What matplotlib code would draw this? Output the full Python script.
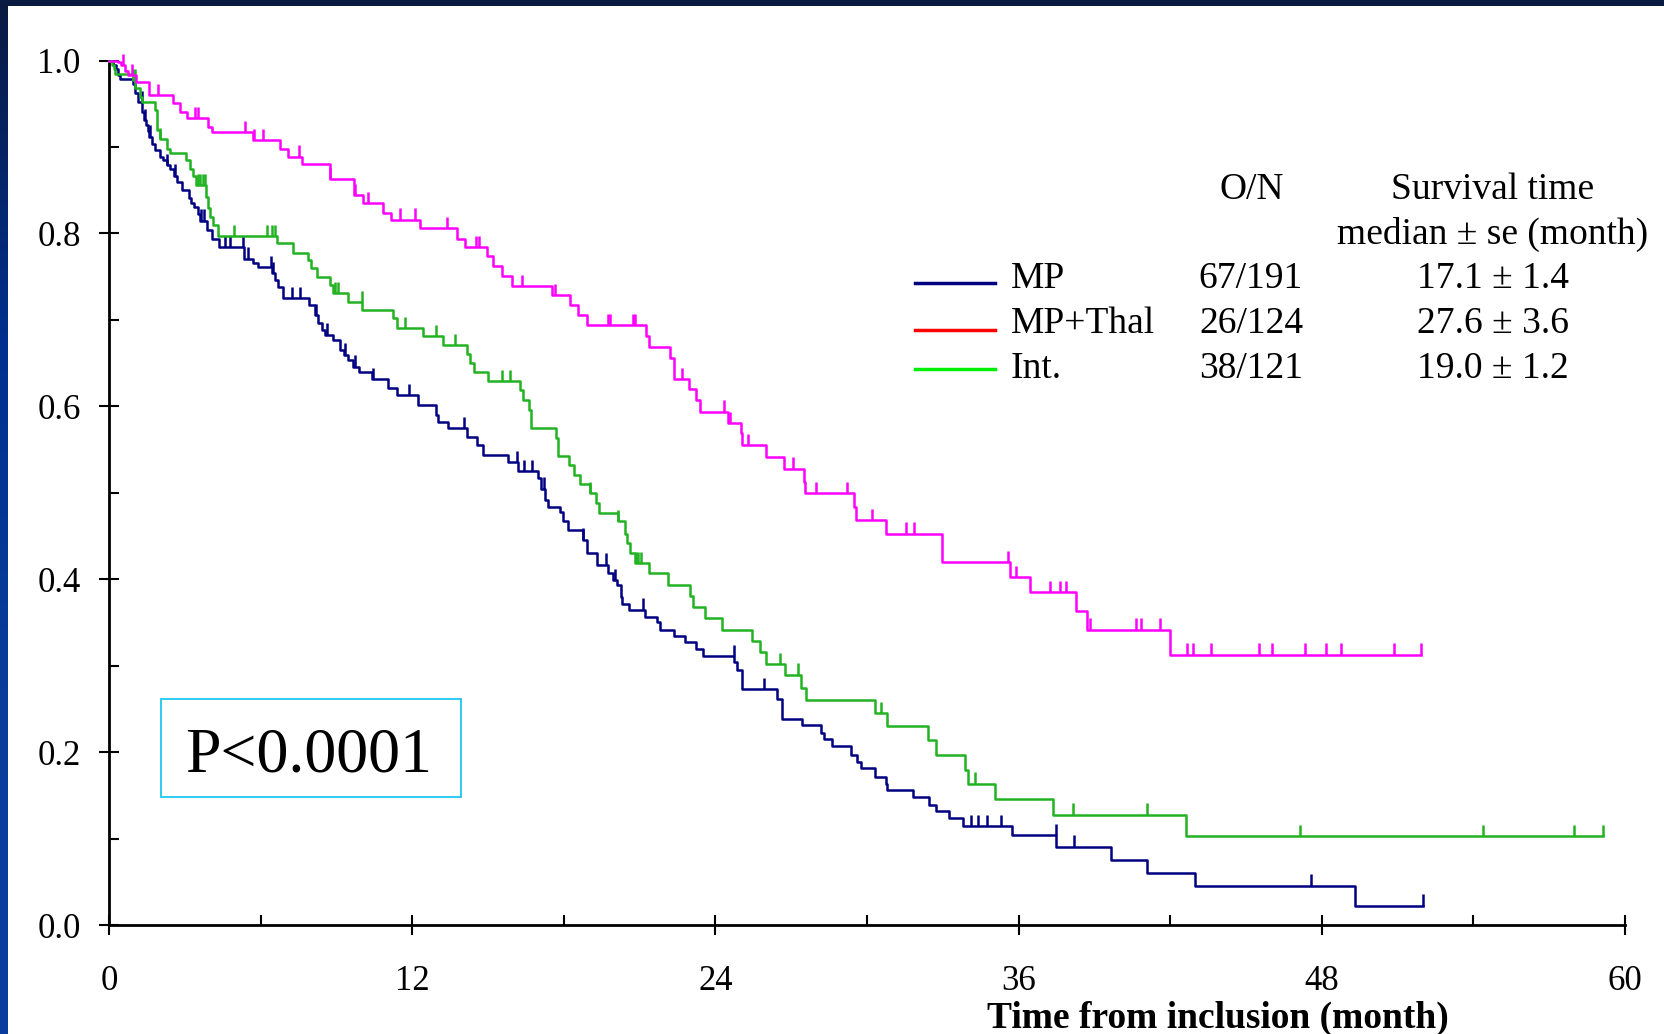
import numpy as np
import matplotlib
matplotlib.use("Agg")
import matplotlib.pyplot as plt
from matplotlib.patches import Rectangle
from matplotlib.colors import LinearSegmentedColormap

plt.rcParams['font.family'] = ['Liberation Serif', 'DejaVu Serif']

# ---------------- data ----------------
groups = ["MP", "MP+Thal", "Int."]
o_n = ["67/191", "26/124", "38/121"]
medians = ["17.1 \u00b1 1.4", "27.6 \u00b1 3.6", "19.0 \u00b1 1.2"]

mp_times = [0.15, 0.25, 0.35, 0.42, 0.95, 1.02, 1.14, 1.31, 1.38, 1.45, 1.52, 1.58, 1.71, 1.82,
            2.0, 2.14, 2.27, 2.40, 2.55, 2.67, 2.87, 3.16, 3.25, 3.36, 3.50, 3.6, 3.86, 4.08,
            4.35, 5.33, 5.68, 5.90, 6.43, 6.55, 6.69, 6.86, 7.92, 8.14, 8.27, 8.41, 8.54, 8.87,
            9.13, 9.30, 9.46, 9.66, 9.90, 10.39, 11.05, 11.40, 12.24, 12.93, 13.03, 13.42, 14.15,
            14.55, 14.78, 15.80, 16.19, 16.98, 17.10, 17.25, 17.38, 17.84, 17.95, 18.17, 18.77,
            18.92, 19.32, 19.73, 19.96, 20.10, 20.26, 20.30, 20.56, 21.20, 21.70, 21.80, 22.34,
            22.79, 23.22, 23.49, 24.75, 24.85, 25.04, 26.43, 26.63, 27.43, 28.19, 28.29, 28.60,
            29.36, 29.59, 29.78, 30.31, 30.77, 30.80, 31.83, 32.44, 32.74, 33.26, 33.80, 35.73,
            37.50, 39.67, 41.08, 43.00, 49.31]
mp_surv = [0.995, 0.99, 0.983, 0.979, 0.973, 0.962, 0.952, 0.941, 0.931, 0.925, 0.918, 0.912, 0.904, 0.896,
           0.889, 0.885, 0.879, 0.875, 0.867, 0.860, 0.850, 0.841, 0.835, 0.831, 0.823, 0.815, 0.804, 0.794,
           0.784, 0.771, 0.766, 0.761, 0.754, 0.746, 0.738, 0.725, 0.717, 0.706, 0.696, 0.688, 0.683, 0.677,
           0.665, 0.660, 0.654, 0.646, 0.640, 0.632, 0.621, 0.613, 0.602, 0.590, 0.582, 0.575, 0.565,
           0.556, 0.544, 0.536, 0.525, 0.517, 0.505, 0.492, 0.484, 0.478, 0.468, 0.457, 0.446,
           0.430, 0.417, 0.407, 0.399, 0.393, 0.380, 0.372, 0.365, 0.357, 0.351, 0.342, 0.335,
           0.328, 0.320, 0.311, 0.305, 0.295, 0.273, 0.262, 0.239, 0.232, 0.223, 0.215, 0.207,
           0.197, 0.189, 0.182, 0.172, 0.164, 0.157, 0.149, 0.139, 0.132, 0.124, 0.115, 0.104,
           0.091, 0.076, 0.061, 0.046, 0.023]
mp_end = 52.0
mp_cens = [1.3, 1.4, 1.6, 2.3, 2.6, 3.65, 3.75, 4.6, 4.78, 5.3, 5.5, 6.4, 6.5, 7.22, 7.55, 8.2, 8.6,
           9.33, 9.73, 10.43, 11.88, 14.04, 16.13, 16.42, 16.75, 17.21, 18.77, 19.66, 20.02, 21.14,
           24.73, 25.92, 34.1, 34.4, 34.75, 35.3, 37.47, 38.2, 47.56, 52.0]

thal_times = [0.36, 0.45, 0.62, 0.75, 1.06, 1.58, 2.53, 2.80, 3.06, 3.92, 4.05, 5.68, 6.76, 7.09, 7.61,
              8.74, 9.69, 10.06, 10.82, 11.14, 12.30, 13.75, 14.08, 14.94, 15.20, 15.53, 15.93, 17.51,
              18.24, 18.57, 18.92, 21.25, 21.38, 22.20, 22.36, 22.96, 23.23, 23.38, 24.50, 25.00, 25.05,
              26.00, 26.70, 27.50, 27.55, 29.48, 29.55, 30.74, 32.95, 35.66, 36.45, 38.27, 38.72, 41.99]
thal_surv = [0.998, 0.995, 0.988, 0.983, 0.975, 0.960, 0.951, 0.941, 0.933, 0.923, 0.917, 0.908, 0.898, 0.889, 0.880,
             0.863, 0.844, 0.835, 0.824, 0.816, 0.806, 0.794, 0.784, 0.774, 0.762, 0.751, 0.739, 0.729,
             0.717, 0.706, 0.694, 0.681, 0.669, 0.656, 0.632, 0.620, 0.607, 0.594, 0.581, 0.569, 0.555,
             0.541, 0.528, 0.513, 0.500, 0.484, 0.469, 0.453, 0.420, 0.403, 0.385, 0.364, 0.342, 0.313]
thal_end = 51.92
thal_cens = [0.55, 0.9, 1.94, 3.40, 3.50, 5.37, 5.72, 6.10, 7.52, 8.75, 9.72, 10.25, 11.50, 12.10, 13.36,
             14.50, 14.65, 16.33, 17.65, 19.75, 19.82, 20.75, 20.82, 22.66, 24.33, 24.57, 25.30, 27.08,
             28.00, 29.20, 30.20, 31.54, 31.86, 35.57, 35.90, 37.24, 37.66, 37.86, 38.82, 40.65, 40.83,
             41.60, 42.68, 42.89, 43.63, 45.53, 46.02, 47.35, 48.17, 48.76, 50.87, 51.92]

int_times = [0.10, 0.18, 0.23, 0.95, 1.02, 1.22, 1.28, 1.81, 1.88, 2.0, 2.27, 2.40, 3.04, 3.19, 3.33, 3.43,
             3.83, 3.90, 3.99, 4.12, 4.32, 6.63, 7.26, 7.88, 7.97, 8.24, 8.74, 8.84, 9.46, 10.0, 11.24,
             11.40, 12.41, 13.22, 14.15, 14.30, 14.44, 15.0, 16.26, 16.37, 16.63, 16.68, 17.68, 17.78,
             18.21, 18.40, 18.64, 19.03, 19.27, 19.40, 20.15, 20.42, 20.48, 20.62, 20.81, 21.38, 22.13,
             22.99, 23.10, 23.58, 24.24, 25.46, 25.76, 26.0, 26.75, 27.38, 27.58, 30.31, 30.80, 32.40,
             32.74, 33.87, 33.99, 35.05, 37.37, 42.62]
int_surv = [0.995, 0.99, 0.984, 0.977, 0.968, 0.958, 0.952, 0.943, 0.920, 0.909, 0.898, 0.893, 0.885, 0.875, 0.866, 0.856,
            0.842, 0.830, 0.819, 0.810, 0.797, 0.789, 0.778, 0.769, 0.760, 0.750, 0.740, 0.731, 0.721, 0.711, 0.702,
            0.691, 0.681, 0.671, 0.661, 0.650, 0.640, 0.629, 0.619, 0.608, 0.596, 0.575, 0.563, 0.543,
            0.532, 0.521, 0.510, 0.500, 0.488, 0.477, 0.467, 0.453, 0.442, 0.431, 0.419, 0.407, 0.394,
            0.381, 0.368, 0.355, 0.342, 0.329, 0.316, 0.302, 0.290, 0.274, 0.261, 0.245, 0.230, 0.214,
            0.197, 0.180, 0.164, 0.146, 0.128, 0.103]
int_end = 59.15
int_cens = [0.95, 1.0, 2.0, 3.5, 3.6, 3.7, 3.8, 4.94, 6.23, 6.45, 6.55, 8.95, 9.05, 9.99, 11.70, 12.93,
            13.69, 15.53, 15.86, 19.03, 20.15, 20.85, 20.95, 21.05, 26.55, 27.28, 30.57, 34.29, 38.15,
            41.08, 47.13, 54.39, 58.0, 59.15]

x_ticks = [0, 12, 24, 36, 48, 60]
x_minor = [6, 18, 30, 42, 54]
y_ticks = [0.0, 0.2, 0.4, 0.6, 0.8, 1.0]
y_minor = [0.1, 0.3, 0.5, 0.7, 0.9]

curve_colors = ["#000080", "#ff00ff", "#22b322"]
legend_colors = ["#000080", "#ff0000", "#00ee00"]

# ---------------- figure ----------------
W, H = 1664, 1034
fig = plt.figure(figsize=(W / 100, H / 100), dpi=100)
fig.patch.set_facecolor("white")

def fx(X):
    return X / W

def fy(Y):
    return 1 - Y / H

# border strips
lax = fig.add_axes([0, 0, 8 / W, 1])
grad = np.linspace(0, 1, 256).reshape(-1, 1)
cmap = LinearSegmentedColormap.from_list("b", ["#0a1a42", "#00308f", "#0a3c9c", "#0a3ca0"])
lax.imshow(grad, aspect="auto", cmap=cmap, extent=[0, 1, 0, 1], origin="upper")
lax.axis("off")
tax = fig.add_axes([0, 1 - 6 / H, 1, 6 / H])
tax.set_facecolor("#0b1a40")
tax.set_xticks([]); tax.set_yticks([])
for s in tax.spines.values():
    s.set_visible(False)

x0, x60 = 109.3, 1624.7
y0, y1 = 925.4, 60.5
ax = fig.add_axes([fx(x0), fy(y0), (x60 - x0) / W, (y0 - y1) / H])
ax.set_xlim(0, 60)
ax.set_ylim(0, 1)
for s in ["top", "right"]:
    ax.spines[s].set_visible(False)
for s in ["left", "bottom"]:
    ax.spines[s].set_linewidth(2)
    ax.spines[s].set_color("black")

ax.set_xticks(x_ticks)
ax.set_xticks(x_minor, minor=True)
ax.set_yticks(y_ticks)
ax.set_yticks(y_minor, minor=True)
ax.set_xticklabels([str(v) for v in x_ticks])
ax.set_yticklabels(["%.1f" % v for v in y_ticks])
ax.tick_params(which="major", direction="inout", length=15, width=1.5, labelsize=25, colors="black")
ax.tick_params(which="minor", direction="in", length=7, width=1.5)
ax.tick_params(axis="x", which="major", pad=21)
ax.tick_params(axis="y", which="major", pad=13)

def draw(times, surv, end, cens, color):
    xs = [0.0] + list(times) + [end]
    ys = [1.0] + list(surv) + [surv[-1]]
    ax.step(xs, ys, where="post", color=color, lw=1.8, clip_on=False, zorder=3)
    t_arr = np.array(times)
    s_arr = np.array(surv)
    cy = []
    for c in cens:
        idx = np.searchsorted(t_arr, c, side="right") - 1
        cy.append(1.0 if idx < 0 else s_arr[idx])
    cy = np.array(cy)
    ax.vlines(cens, cy, cy + 0.013, color=color, lw=1.8, clip_on=False, zorder=3)

draw(mp_times, mp_surv, mp_end, mp_cens, curve_colors[0])
draw(int_times, int_surv, int_end, int_cens, curve_colors[2])
draw(thal_times, thal_surv, thal_end, thal_cens, curve_colors[1])

# legend / table
fs = 27
fig.text(fx(1252), fy(190), "O/N", ha="center", va="center", fontsize=fs)
fig.text(fx(1493), fy(190), "Survival time", ha="center", va="center", fontsize=fs)
fig.text(fx(1493), fy(234), "median \u00b1 se (month)", ha="center", va="center", fontsize=fs)
row_y = [279, 323.5, 369]
line_y = [283, 330, 369]
for i in range(3):
    fig.text(fx(1011), fy(row_y[i]), groups[i], ha="left", va="center", fontsize=fs)
    fig.text(fx(1251), fy(row_y[i]), o_n[i], ha="center", va="center", fontsize=fs)
    fig.text(fx(1493), fy(row_y[i]), medians[i], ha="center", va="center", fontsize=fs)
    fig.add_artist(plt.Line2D([fx(915), fx(995)], [fy(line_y[i]), fy(line_y[i])],
                              color=legend_colors[i], lw=2.5, transform=fig.transFigure))

# P value box
fig.patches.append(Rectangle((fx(161.3), fy(797)), (460.6 - 161.3) / W, (797 - 699.3) / H,
                             transform=fig.transFigure, fill=False, edgecolor="#1ec8f0", lw=1.3))
fig.text(fx(309), fy(756), "P<0.0001", ha="center", va="center", fontsize=46)

# x label
fig.text(fx(1218), fy(1018), "Time from inclusion (month)", ha="center", va="center",
         fontsize=27, fontweight="bold")

fig.savefig("out.png", dpi=100, facecolor="white")
